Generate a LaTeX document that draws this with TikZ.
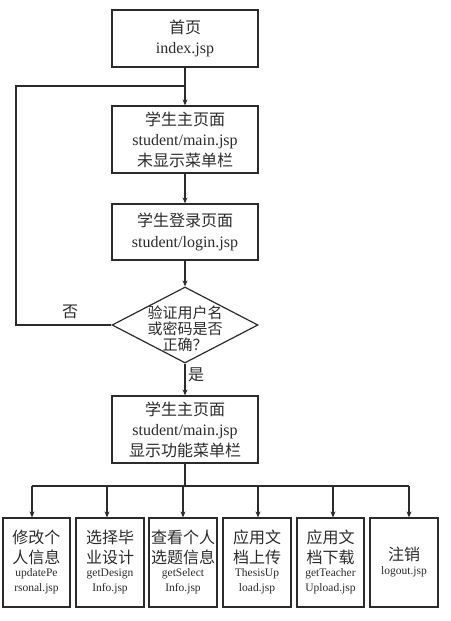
\documentclass[tikz,border=0pt]{standalone}
\usepackage{fontspec}
\setmainfont{Liberation Serif}
\newfontfamily\cjk{Noto Sans CJK SC}
\usetikzlibrary{arrows.meta,shapes.geometric}
\definecolor{ink}{HTML}{2B2B2B}
\begin{document}
\begin{tikzpicture}[x=1pt,y=-1pt]
\tikzset{
 box/.style={draw=ink, line width=1.2pt, minimum width=146pt, inner sep=0pt, align=center, text=ink, font=\fontsize{16}{20.5}\selectfont},
 sbox/.style={draw=ink, line width=1.2pt, minimum height=89pt, inner sep=0pt},
 cjkt/.style={align=center, text=ink, inner sep=0pt, font=\fontsize{16}{20}\selectfont\cjk},
 latt/.style={align=center, text=ink, inner sep=0pt, font=\fontsize{11.5}{15}\selectfont},
 arr/.style={draw=ink, line width=1.1pt, -{Stealth[length=6pt,width=5pt]}},
 ln/.style={draw=ink, line width=1.1pt},
}
\useasboundingbox (0,0) rectangle (450,621);
% main column
\node[box, minimum height=57pt] (p1) at (185,38.5) {{\cjk 首页}\\index.jsp};
\node[box, minimum height=67pt] (p2) at (185,139.5) {{\cjk 学生主页面}\\student/main.jsp\\{\cjk 未显示菜单栏}};
\node[box, minimum height=56pt] (p3) at (185,232) {{\cjk 学生登录页面}\\student/login.jsp};
\node[draw=ink, line width=1.2pt, diamond, minimum width=146pt, minimum height=76pt, inner sep=0pt] (d) at (185,325) {};
\node[cjkt, font=\fontsize{15}{16}\selectfont\cjk] (dt) at (185,329) {验证用户名\\或密码是否\\正确？};
\node[box, minimum height=67pt] (p4) at (185,429.5) {{\cjk 学生主页面}\\student/main.jsp\\{\cjk 显示功能菜单栏}};
% connectors
\draw[arr] (p1) -- (p2);
\draw[arr] (p2) -- (p3);
\draw[arr] (p3) -- (d);
\draw[arr] (d) -- (p4);
\coordinate (j) at (185,86);
\coordinate (fb) at (16,86);
\draw[ln] (d.west) -| (fb) -- (j);
\node[cjkt] (no) at (70,312) {否};
\node[cjkt] (yes) at (196,375) {是};
% bottom boxes
\node[sbox, minimum width=67pt] (b1) at (36.5,562.5) {};
\node[sbox, minimum width=68pt] (b2) at (110,562.5) {};
\node[sbox, minimum width=68pt] (b3) at (183,562.5) {};
\node[sbox, minimum width=68pt] (b4) at (257,562.5) {};
\node[sbox, minimum width=67pt] (b5) at (330.5,562.5) {};
\node[sbox, minimum width=68pt] (b6) at (404,562.5) {};
\node[cjkt] (t1) at (36.5,547) {修改个\\人信息};
\node[latt] (l1) at (36.5,581.5) {updatePe\\rsonal.jsp};
\node[cjkt] (t2) at (110,547) {选择毕\\业设计};
\node[latt] (l2) at (110,581.5) {getDesign\\Info.jsp};
\node[cjkt] (t3) at (183,547) {查看个人\\选题信息};
\node[latt] (l3) at (183,581.5) {getSelect\\Info.jsp};
\node[cjkt] (t4) at (257,547) {应用文\\档上传};
\node[latt] (l4) at (257,581.5) {ThesisUp\\load.jsp};
\node[cjkt] (t5) at (330.5,547) {应用文\\档下载};
\node[latt] (l5) at (330.5,581.5) {getTeacher\\Upload.jsp};
\node[cjkt] (t6) at (404,554) {注销};
\node[latt] (l6) at (404,572) {logout.jsp};
% bus
\coordinate (bus) at (185,486);
\coordinate (c1) at (32,486);
\coordinate (c2) at (107,486);
\coordinate (c3) at (183,486);
\coordinate (c4) at (258,486);
\coordinate (c5) at (333,486);
\coordinate (c6) at (409,486);
\draw[ln] (p4.south) -- (bus);
\draw[ln] (c1) -- (c6);
\foreach \i in {1,...,6} {\draw[arr] (c\i) -- (c\i |- b\i.north);}
\end{tikzpicture}
\end{document}
